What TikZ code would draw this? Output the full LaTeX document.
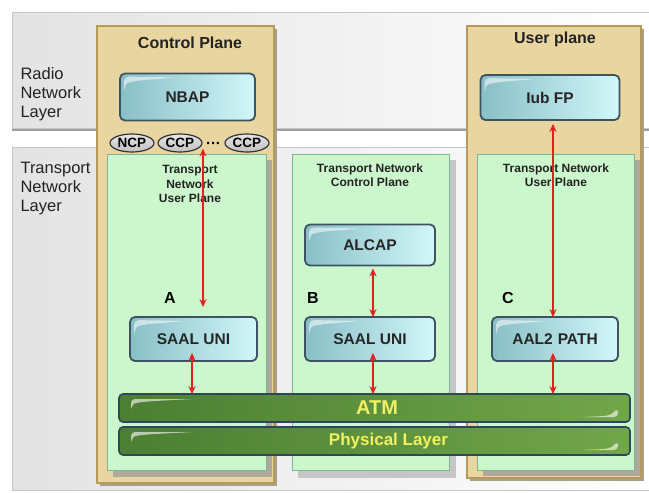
\documentclass[tikz,border=0pt]{standalone}
\usepackage{fontspec}
\setmainfont{Liberation Sans}
\usetikzlibrary{arrows.meta,shapes.geometric}

\definecolor{tanfill}{HTML}{E8D5A0}
\definecolor{tanedge}{HTML}{B89A58}
\definecolor{shadowgray}{HTML}{A59F90}
\definecolor{mint}{HTML}{CCF7CC}
\definecolor{mintedge}{HTML}{7DB59B}
\definecolor{tealdark}{HTML}{88BFC6}
\definecolor{teallight}{HTML}{D2F7F9}
\definecolor{boxedge}{HTML}{3E5361}
\definecolor{bargreenA}{HTML}{4C7E33}
\definecolor{bargreenB}{HTML}{72A64A}
\definecolor{baredge}{HTML}{2C4858}
\definecolor{bartext}{HTML}{F0F060}
\definecolor{arrowred}{HTML}{E3201B}
\definecolor{labeltext}{HTML}{222222}

\tikzset{
  band/.style={draw=gray!45, line width=0.8pt, left color=gray!22, right color=white},
  planebox/.style={draw=tanedge, line width=1.5pt, fill=tanfill},
  planeshadow/.style={fill=shadowgray},
  mintbox/.style={draw=mintedge, line width=1pt, fill=mint},
  gloss/.style={path picture={
      \fill[white, opacity=0.55]
        ([xshift=4pt,yshift=-3pt]path picture bounding box.north west)
        -- ([xshift=4pt,yshift=-19pt]path picture bounding box.north west)
        .. controls ([xshift=6pt,yshift=-8pt]path picture bounding box.north west)
        .. ([xshift=55pt,yshift=-4pt]path picture bounding box.north west)
        -- cycle;}},
  bluebox/.style={rounded corners=5pt, draw=boxedge, line width=1.8pt,
    left color=tealdark, right color=teallight, text=black!85,
    font=\bfseries\fontsize{15.5}{17}\selectfont, inner sep=0pt, gloss},
  barbox/.style={rounded corners=4pt, draw=baredge, line width=1.6pt,
    left color=bargreenA, right color=bargreenB, text=bartext,
    minimum width=511pt, minimum height=28pt, inner sep=0pt,
    path picture={
      \fill[white, opacity=0.6]
        ([xshift=12pt,yshift=-5pt]path picture bounding box.north west)
        -- ([xshift=12pt,yshift=-17pt]path picture bounding box.north west)
        .. controls ([xshift=14pt,yshift=-8pt]path picture bounding box.north west)
        .. ([xshift=75pt,yshift=-5pt]path picture bounding box.north west)
        -- cycle;
      \fill[white, opacity=0.6]
        ([xshift=-12pt,yshift=5pt]path picture bounding box.south east)
        -- ([xshift=-12pt,yshift=14pt]path picture bounding box.south east)
        .. controls ([xshift=-20pt,yshift=6pt]path picture bounding box.south east)
        .. ([xshift=-50pt,yshift=5pt]path picture bounding box.south east)
        -- cycle;}},
  oval/.style={ellipse, draw=black!80, line width=1.2pt,
    top color=gray!20, bottom color=gray!50, inner sep=0pt,
    minimum width=44pt, minimum height=18pt,
    font=\bfseries\fontsize{13.5}{14}\selectfont},
  title/.style={font=\bfseries\fontsize{16}{18}\selectfont, text=labeltext},
  layertext/.style={align=left, anchor=west, text=labeltext,
    font=\fontsize{16.5}{19}\selectfont},
  mintcaption/.style={align=center, text=labeltext,
    font=\bfseries\fontsize{12}{14.5}\selectfont},
  tag/.style={font=\bfseries\fontsize{16}{18}\selectfont, text=black},
  dbl/.style={draw=arrowred, line width=1.7pt,
    {Stealth[length=8pt,width=7pt]}-{Stealth[length=8pt,width=7pt]}}
}

\begin{document}
\begin{tikzpicture}[x=1pt, y=-1pt]
  \useasboundingbox (0,0) rectangle (649,493);
  \fill[white] (0,0) rectangle (649,493);

  % layer bands
  \path[band] (12,12) rectangle (649,128);
  \draw[gray!75, line width=2pt] (12,130) -- (649,130);
  \path[band] (12,147) rectangle (649,490);

  \node[layertext] (radiolabel) at (17,94) {Radio\\Network\\Layer};
  \node[layertext] (translabel) at (17,189) {Transport\\Network\\Layer};

  % control plane and user plane frames
  \fill[planeshadow] (100,29) rectangle (277,486);
  \path[planebox] (97,26) rectangle (274,483);
  \fill[planeshadow] (470,29) rectangle (644,481);
  \path[planebox] (467,26) rectangle (641,478);

  \node[title] (cptitle) at (190,43) {Control Plane};
  \node[title] (uptitle) at (555,39) {User plane};

  % transport network sub-planes
  \fill[shadowgray!90] (113,160) rectangle (272,477);
  \path[mintbox] (107,154) rectangle (266,470);
  \fill[gray!45] (298,160) rectangle (456,478);
  \path[mintbox] (292,154) rectangle (449,470);
  \fill[shadowgray!90] (483,160) rectangle (640,476);
  \path[mintbox] (477,154) rectangle (634,470);

  \node[mintcaption] (tnupA) at (190,184) {Transport\\Network\\User Plane};
  \node[mintcaption] (tncp) at (370,175) {Transport Network\\Control Plane};
  \node[mintcaption] (tnupC) at (556,175) {Transport Network\\User Plane};

  % ATM and physical layer bars
  \node[barbox, font=\bfseries\fontsize{20}{22}\selectfont] (atm) at (374.5,408) {\hspace*{5pt}ATM};
  \node[barbox, font=\bfseries\fontsize{17}{19}\selectfont] (phy) at (374.5,441) {\hspace*{28pt}Physical Layer};

  % protocol boxes
  \node[bluebox, minimum width=135pt, minimum height=47pt] (nbap) at (187.5,97) {NBAP};
  \node[bluebox, minimum width=139pt, minimum height=45pt] (iubfp) at (550,97.5) {Iub FP};
  \node[bluebox, minimum width=130pt, minimum height=41pt] (alcap) at (370,245) {ALCAP};
  \node[bluebox, minimum width=127pt, minimum height=44pt] (saalA) at (193.5,339) {SAAL UNI};
  \node[bluebox, minimum width=130pt, minimum height=44pt] (saalB) at (370,339) {SAAL UNI};
  \node[bluebox, minimum width=126pt, minimum height=44pt] (aal2) at (555,339) {AAL2\hspace{5pt}PATH};

  % NBAP signalling bearers
  \node[oval] (ncp) at (132,143) {NCP};
  \node[oval] (ccpA) at (180,143) {CCP};
  \node[font=\bfseries\fontsize{15}{16}\selectfont] (dots) at (213.5,145.5) {···};
  \node[oval] (ccpB) at (247,143) {CCP};

  % interface tags
  \node[tag] (tagA) at (170,298) {A};
  \node[tag] (tagB) at (313,298) {B};
  \node[tag] (tagC) at (508,298) {C};

  % connections
  \draw[dbl] ([xshift=9.5pt,yshift=9pt]saalA.north) -- ([xshift=9.5pt,yshift=4pt]saalA.north |- ccpA.south);
  \draw[dbl] ([xshift=-1.5pt,yshift=9pt]saalA.south) -- ([xshift=-1.5pt,yshift=-1pt]saalA.south |- atm.north);
  \draw[dbl] ([xshift=3pt,yshift=-2pt]alcap.south) -- ([xshift=3pt,yshift=-1pt]saalB.north);
  \draw[dbl] ([xshift=3pt,yshift=9pt]saalB.south) -- ([xshift=3pt,yshift=-1pt]saalB.south |- atm.north);
  \draw[dbl] ([xshift=-2pt,yshift=-3pt]iubfp.south -| aal2.north) -- ([xshift=-2pt,yshift=-1pt]aal2.north);
  \draw[dbl] ([xshift=-2pt,yshift=9pt]aal2.south) -- ([xshift=-2pt,yshift=-1pt]aal2.south |- atm.north);
\end{tikzpicture}
\end{document}
